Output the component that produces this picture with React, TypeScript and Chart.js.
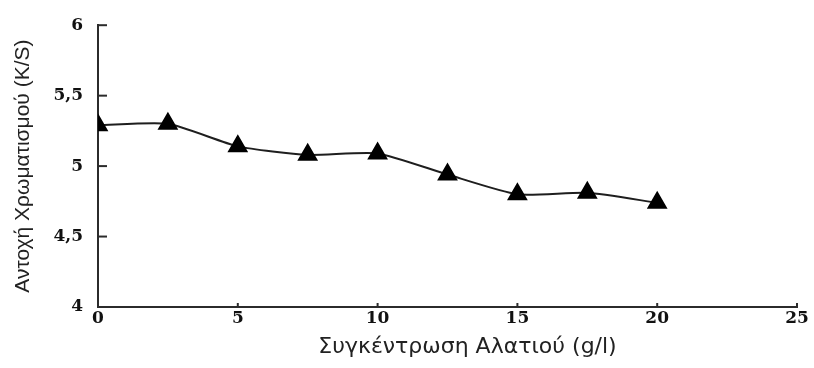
import React, { useEffect, useRef } from "react";
import { Chart, registerables } from "chart.js";

Chart.register(...registerables);

const concentrations = [0, 2.5, 5, 7.5, 10, 12.5, 15, 17.5, 20];
const colorFastness = [5.29, 5.3, 5.14, 5.08, 5.09, 4.94, 4.8, 4.81, 4.74];
const xTicks = [0, 5, 10, 15, 20, 25];
const yTicks = [4, 4.5, 5, 5.5, 6];
const xTitle = "Συγκέντρωση Αλατιού (g/l)";
const yTitle = "Αντοχή Χρωματισμού (K/S)";

const AXIS_COLOR = "#2b2b2b";

const innerTicks = {
  id: "innerTicks",
  afterDatasetsDraw(chart: any) {
    const { ctx, chartArea, scales } = chart;
    ctx.save();
    ctx.strokeStyle = AXIS_COLOR;
    ctx.lineWidth = 2;
    scales.y.ticks.forEach((t: any) => {
      const py = scales.y.getPixelForValue(t.value);
      ctx.beginPath();
      ctx.moveTo(chartArea.left, py);
      ctx.lineTo(chartArea.left + 9, py);
      ctx.stroke();
    });
    scales.x.ticks.forEach((t: any) => {
      const px = scales.x.getPixelForValue(t.value);
      ctx.beginPath();
      ctx.moveTo(px, chartArea.bottom);
      ctx.lineTo(px, chartArea.bottom - 4);
      ctx.stroke();
    });
    // x-axis title, placed slightly right of the axis centre as in the reference
    ctx.fillStyle = "#222";
    ctx.font = "22px 'DejaVu Sans'";
    ctx.textAlign = "center";
    ctx.textBaseline = "middle";
    ctx.fillText(xTitle, (chartArea.left + chartArea.right) / 2 + 20, chart.height - 21);
    ctx.restore();
  },
};

export default function App() {
  const ref = useRef<HTMLCanvasElement | null>(null);

  useEffect(() => {
    if (!ref.current) return;
    const tickFont = { family: "DejaVu Serif", size: 17, weight: "bold" };
    const chart = new Chart(ref.current, {
      type: "line",
      data: {
        datasets: [
          {
            data: concentrations.map((x, i) => ({ x, y: colorFastness[i] })),
            borderColor: "#1e1e1e",
            borderWidth: 2,
            backgroundColor: "#000",
            pointBackgroundColor: "#000",
            pointBorderColor: "#000",
            pointStyle: "triangle",
            pointRadius: 10,
            tension: 0.2,
          },
        ],
      },
      plugins: [innerTicks],
      options: {
        animation: false,
        responsive: false,
        layout: { padding: { top: 25, right: 17, left: 0, bottom: 0 } },
        plugins: { legend: { display: false }, tooltip: { enabled: false } },
        scales: {
          x: {
            type: "linear",
            min: 0,
            max: 25,
            afterBuildTicks: (s: any) => {
              s.ticks = xTicks.map((v) => ({ value: v }));
            },
            afterFit: (s: any) => {
              s.height = 61;
            },
            grid: { display: true, drawOnChartArea: false, drawTicks: false },
            border: { display: true, color: AXIS_COLOR, width: 2 },
            ticks: {
              padding: 1,
              color: "#111",
              font: tickFont,
              maxRotation: 0,
            },
          },
          y: {
            type: "linear",
            min: 4,
            max: 6,
            afterBuildTicks: (s: any) => {
              s.ticks = yTicks.map((v) => ({ value: v }));
            },
            afterFit: (s: any) => {
              s.width = 98;
            },
            grid: { display: true, drawOnChartArea: false, drawTicks: false },
            border: { display: true, color: AXIS_COLOR, width: 2 },
            ticks: {
              padding: 15,
              color: "#111",
              font: tickFont,
              callback: (v: any) => String(v).replace(".", ","),
            },
            title: {
              display: true,
              text: yTitle,
              color: "#222",
              font: { family: "Liberation Sans", size: 21 },
              padding: { top: 11, bottom: 0 },
            },
          },
        },
      },
    } as any);
    return () => chart.destroy();
  }, []);

  return (
    <div style={{ position: "fixed", left: 0, top: 0, width: 814, height: 368, background: "#fff" }}>
      <canvas ref={ref} width={814} height={368} />
    </div>
  );
}
